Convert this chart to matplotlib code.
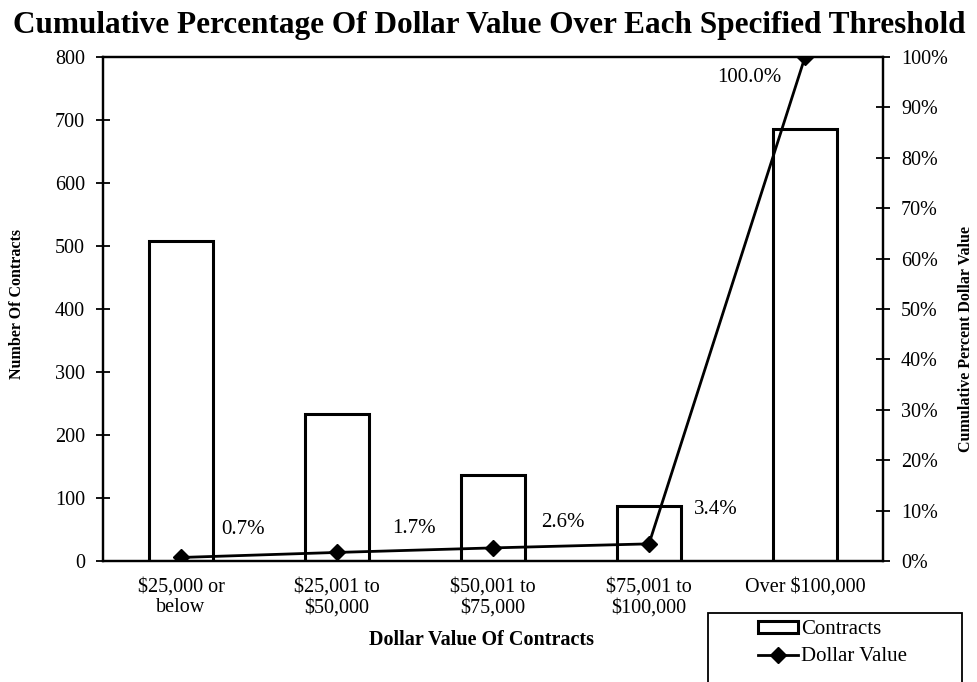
import matplotlib.pyplot as plt
import numpy as np
from matplotlib.patches import Rectangle
from matplotlib.ticker import PercentFormatter

plt.rcParams['font.family'] = ['Liberation Serif', 'DejaVu Serif']

categories = ["$25,000 or\nbelow", "$25,001 to\n$50,000", "$50,001 to\n$75,000",
              "$75,001 to\n$100,000", "Over $100,000"]
contracts = [508, 234, 137, 88, 686]
cum_pct = [0.7, 1.7, 2.6, 3.4, 100.0]
pct_labels = ["0.7%", "1.7%", "2.6%", "3.4%", "100.0%"]
# label offsets in pixels (dx to left edge, dy upward) from each point
label_off = [(40, 28), (55, 24), (48, 25), (45, 34), (-88, -21)]

W, H = 978, 682
fig = plt.figure(figsize=(W / 100, H / 100), dpi=100)
ax = fig.add_axes([103 / W, (H - 561) / H, 780 / W, 504 / H])
x = np.arange(len(categories))

bars = ax.bar(x, contracts, width=0.405, facecolor='white', edgecolor='black',
              linewidth=2.2, zorder=2)
ax.set_xlim(-0.5, len(categories) - 0.5)
ax.set_ylim(0, 800)
ax.set_yticks(range(0, 801, 100))
ax.tick_params(axis='y', direction='inout', length=10, width=1.3, labelsize=14.5, pad=8)
ax.set_xticks(x)
ax.set_xticklabels(categories, fontsize=14.5, linespacing=1.1)
ax.tick_params(axis='x', length=0, pad=12)
for s in ax.spines.values():
    s.set_linewidth(1.6)

ax2 = ax.twinx()
line, = ax2.plot(x, cum_pct, color='black', linewidth=2, marker='D', markersize=8, zorder=3)
ax2.set_ylim(0, 100)
ax2.set_yticks(range(0, 101, 10))
ax2.yaxis.set_major_formatter(PercentFormatter(decimals=0))
ax2.tick_params(axis='y', direction='inout', length=10, width=1.3, labelsize=14.5, pad=8)
for s in ax2.spines.values():
    s.set_linewidth(1.6)
ax2.set_xlim(-0.5, len(categories) - 0.5)

for xi, yi, lab, (dx, dy) in zip(x, cum_pct, pct_labels, label_off):
    ax2.annotate(lab, (xi, yi), xytext=(dx * 0.72, dy * 0.72), textcoords='offset points',
                 fontsize=15, ha='left', va='center')

fig.text(0.5, 1 - 33 / H, "Cumulative Percentage Of Dollar Value Over Each Specified Threshold",
         ha='center', va='baseline', fontsize=22.5, fontweight='bold')

ax.set_ylabel("Number Of Contracts", fontsize=11.5, fontweight='bold')
ax.yaxis.set_label_coords(-0.1, 0.51)
ax2.set_ylabel("Cumulative Percent Dollar Value", fontsize=11.5, fontweight='bold')
ax2.yaxis.set_label_coords(1.096, 0.44)
ax.set_xlabel("Dollar Value Of Contracts", fontsize=14.5, fontweight='bold')
ax.xaxis.set_label_coords(0.485, -(640 - 561) / 504)
ax.xaxis.label.set_va('center')

# legend box runs off the bottom edge like in the scan
fig.patches.append(Rectangle((708 / W, -0.02), (962 - 708) / W, (H - 613) / H + 0.02,
                             transform=fig.transFigure, fill=False, lw=1.3, ec='black'))
leg = fig.legend([bars, line], ['Contracts', 'Dollar Value'], loc='upper left',
                 bbox_to_anchor=(758 / W, 1 - 620 / H), fontsize=15, frameon=False,
                 handlelength=1.9, handleheight=0.5, borderpad=0, borderaxespad=0,
                 labelspacing=0.4, handletextpad=0.15)

fig.savefig("out.png", dpi=100)
